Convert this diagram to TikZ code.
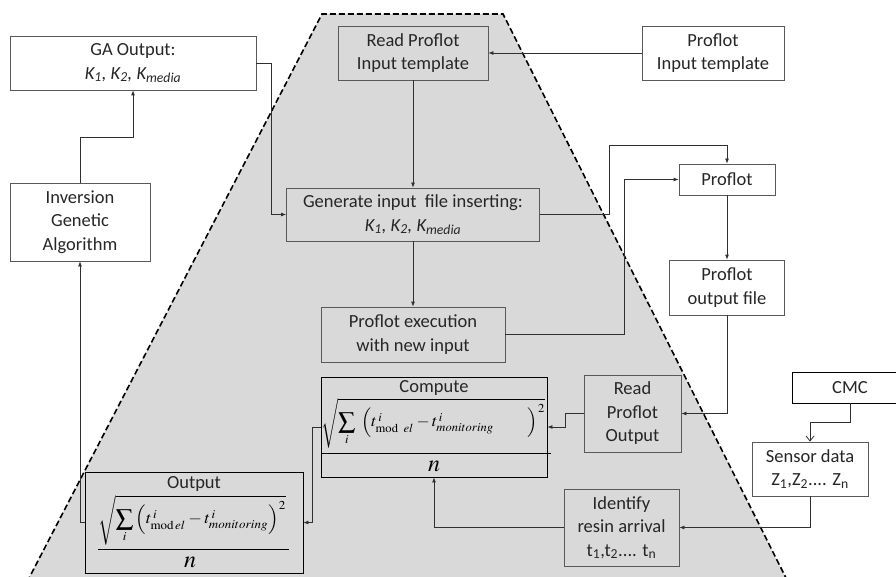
\documentclass[tikz,border=0pt]{standalone}
\usepackage{mathptmx}
\usepackage[no-math]{fontspec}
\setmainfont{Carlito}
\usepackage{graphicx}
\usetikzlibrary{arrows.meta}
\definecolor{bg}{HTML}{D9D9D9}
\definecolor{bord}{HTML}{595959}
\definecolor{ln}{HTML}{303030}
\begin{document}
\begin{tikzpicture}[x=1pt,y=-1pt,
  box/.style={draw=bord, line width=0.8pt, fill=white, inner sep=1pt, align=center,
    font=\fontsize{18.5}{23.5}\selectfont, text=black!85},
  gbox/.style={box, fill=bg},
  arr/.style={draw=ln, line width=0.8pt, -{Latex[length=5pt,width=4pt]}},
  varr/.style={draw=ln, line width=0.8pt, -{Straight Barb[length=5pt,width=8pt]}},
  frm/.style={inner sep=0pt, anchor=north west}]
\useasboundingbox (0,0) rectangle (896,577);
% shaded trapezoid
\fill[bg] (322,14) -- (503,14) -- (788,582) -- (27,582) -- cycle;
\draw[black, line width=1.6pt, dash pattern=on 6pt off 3pt] (27,582) -- (322,14) -- (503,14) -- (788,582);
% nodes
\node[box, minimum width=246, minimum height=54] (ga) at (133,63) {GA Output:\\\textit{K\textsubscript{1}, K\textsubscript{2}, K\textsubscript{media}}};
\node[box, minimum width=140, minimum height=78] (inv) at (80,222) {Inversion\\Genetic\\Algorithm};
\node[gbox, minimum width=150, minimum height=54] (read) at (413,53) {Read Proflot\\Input template};
\node[box, minimum width=142, minimum height=54] (tmpl) at (713,53) {Proflot\\Input template};
\node[gbox, minimum width=253, minimum height=53] (gen) at (413,214.5) {Generate input\ \ file inserting:\\\textit{K\textsubscript{1}, K\textsubscript{2}, K\textsubscript{media}}};
\node[box, minimum width=96, minimum height=31] (proflot) at (727,179.5) {Proflot};
\node[gbox, minimum width=184, minimum height=55] (exec) at (413,334.5) {Proflot execution\\with new input};
\node[box, minimum width=115, minimum height=55] (pout) at (727,287.5) {Proflot\\output file};
\node[gbox, minimum width=97, minimum height=77] (rpo) at (632.5,413.5) {Read\\Proflot\\Output};
\node[gbox, draw=black, minimum width=226, minimum height=100] (comp) at (434,427) {};
\node[gbox, draw=black, minimum width=218, minimum height=101] (outb) at (194,522.5) {};
\node[box, draw=black, minimum width=116, minimum height=31, text depth=0pt] (cmc) at (850,387.5) {CMC};
\node[box, minimum width=116, minimum height=54] (sens) at (810,469) {Sensor data\\Z\textsubscript{1},Z\textsubscript{2}.... Z\textsubscript{n}};
\node[gbox, minimum width=115, minimum height=77] (ident) at (621.5,527.5) {Identify\\resin arrival\\t\textsubscript{1},t\textsubscript{2}.... t\textsubscript{n}};
% formula contents
\node[font=\fontsize{18.5}{20}\selectfont, text=black!85] (ctitle) at (434,388) {Compute};
\node[frm] (cform) at (321,398) {\resizebox*{224pt}{50pt}{$\displaystyle\sqrt{\sum_i\;\left(t^{\,i}_{\mathrm{mod}\;\;el}-t^{\,i}_{monitoring}\qquad\right)^{2}}$}};
\draw[black, line width=0.8pt] (321,453) -- (551,453);
\node[font=\fontsize{24}{24}\selectfont] (cn) at (434,466) {$n$};
\node[font=\fontsize{18.5}{20}\selectfont, text=black!85] (otitle) at (194,484) {Output};
\node[frm] (oform) at (98,495) {\resizebox*{188pt}{50pt}{$\displaystyle\sqrt{\sum_i\left(t^{\,i}_{\mathrm{mod}\,el}-t^{\,i}_{monitoring}\right)^{2}}$}};
\draw[black, line width=0.8pt] (98,549) -- (289,549);
\node[font=\fontsize{24}{24}\selectfont] (on) at (190,562) {$n$};
% connectors
\draw[arr] (inv.north) -- (80,137) -| (ga.south);
\draw[arr] (outb.west) -| (inv.south);
\draw[arr] (ga.east) -- (271,63) |- (gen.west);
\draw[arr] (tmpl.west) -- (read.east);
\draw[arr] (read.south) -- (gen.north);
\draw[arr] (gen.south) -- (exec.north);
\draw[arr] (gen.east) -| (609,145) -| (proflot.north);
\draw[arr] (exec.east) -- (624,334.5) |- (proflot.west);
\draw[arr] (proflot.south) -- (pout.north);
\draw[arr] (pout.south) |- (rpo.east);
\draw[arr] (rpo.west) -- (565,413.5) |- (comp.east);
\draw[arr] (comp.west) -- (312,427) |- (outb.east);
\draw[varr] (cmc.south) -- (850,422) -| (sens.north);
\draw[arr] (sens.south) |- (ident.east);
\draw[arr] (ident.west) -| (comp.south);
\end{tikzpicture}
\end{document}
